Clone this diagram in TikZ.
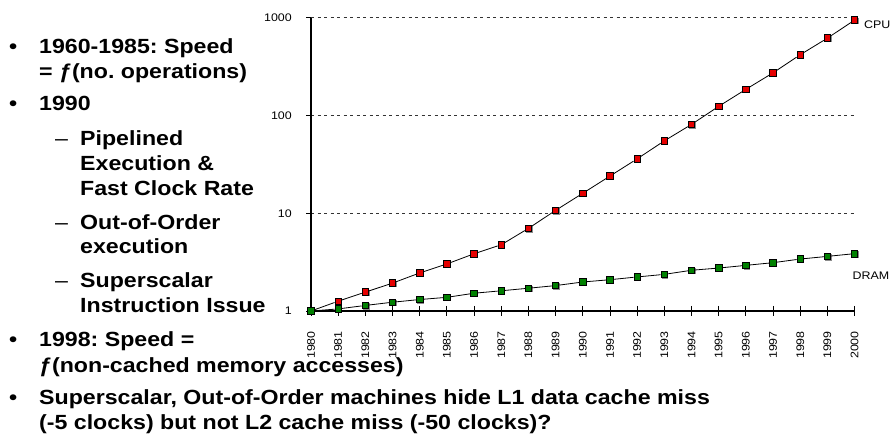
\documentclass[tikz,border=0pt]{standalone}
\usepackage{fontspec}
\setmainfont{Liberation Sans}[FakeStretch=1.13]
\usetikzlibrary{shadows}
\frenchspacing

\newcommand{\bodyfont}{\fontsize{20.5}{24}\selectfont\bfseries}
\newcommand{\chartfont}{\fontsize{11}{13}\selectfont}

\tikzset{
  line/.style={anchor=base west, inner sep=0pt, font=\bodyfont},
  dashmark/.style={anchor=base west, inner sep=0pt, font=\fontsize{20.5}{24}\selectfont},
  ylab/.style={anchor=east, inner sep=0pt, font=\chartfont},
  xlab/.style={anchor=east, rotate=90, inner sep=0pt, font=\chartfont},
  grid line/.style={draw=black!80, line width=0.8pt, dash pattern=on 3pt off 3.5pt},
  axis/.style={draw=black, line width=1.1pt},
  series/.style={draw=black, line width=0.8pt},
  marker/.style={rectangle, minimum size=6.5pt, inner sep=0pt, draw=black,
    line width=0.8pt, drop shadow={shadow xshift=0.9pt, shadow yshift=-0.9pt,
    fill=black!45, opacity=1}},
  cpu/.style={marker, fill=red!90!black},
  dram/.style={marker, fill=green!50!black},
}

\begin{document}
\begin{tikzpicture}[x=1pt, y=-1pt]
\useasboundingbox (0,0) rectangle (892,435);

% ---------- bullet list ----------
\node[line] (b1)  at (9,54)    {•};
\node[line] (t1a) at (39,54)   {1960-1985: Speed};
\node[line] (t1b) at (39,79)   {= ƒ(no. operations)};
\node[line] (b2)  at (9,111)   {•};
\node[line] (t2)  at (39,111)  {1990};
\node[dashmark] (s1)  at (55,146)  {–};
\node[line] (s1a) at (80,146)  {Pipelined};
\node[line] (s1b) at (80,171)  {Execution \&};
\node[line] (s1c) at (80,196)  {Fast Clock Rate};
\node[dashmark] (s2)  at (55,229.5){–};
\node[line] (s2a) at (80,229.5){Out-of-Order};
\node[line] (s2b) at (80,254)  {execution};
\node[dashmark] (s3)  at (55,288)  {–};
\node[line] (s3a) at (80,288)  {Superscalar};
\node[line] (s3b) at (80,312.5){Instruction Issue};
\node[line] (b3)  at (9,347)   {•};
\node[line] (t3a) at (39,347)  {1998: Speed =};
\node[line] (t3b) at (39,372.5){ƒ(non-cached memory accesses)};
\node[line] (b4)  at (9,405)   {•};
\node[line] (t4a) at (39,405)  {Superscalar, Out-of-Order machines hide L1 data cache miss};
\node[line] (t4b) at (39,430)  {(-5 clocks) but not L2 cache miss (-50 clocks)?};

% ---------- chart: log scale, 1 decade = 97.77 units, 1 year = 27.18 units ----------
\coordinate (o) at (311,311);
\foreach \lab [count=\k from 0] in {1,10,100,1000} {
  \coordinate (g\k) at (311,{311-97.77*\k});
  \node[ylab] (yl\k) at (292,{311-97.77*\k}) {\lab};
  \draw[axis, line width=0.9pt] (g\k) -- ++(-5,0);
}
\foreach \k in {1,2,3}
  \draw[grid line] (g\k) -- ++(544,0);
\draw[axis] (g3) -- (o);
\draw[axis] (o) -- ++(544,0);
\foreach \yr [count=\i from 0] in {1980,...,2000} {
  \draw[axis, line width=0.9pt] ({311+27.18*\i},306) -- ({311+27.18*\i},316);
  \node[xlab] (x\yr) at ({311+27.18*\i},331) {\yr};
}

% CPU performance relative to 1980
\foreach \v [count=\i from 0] in {1,1.26,1.56,1.93,2.45,3.03,3.85,4.76,7.0,10.7,16,24,36,55,81,124,185,273,418,618,945}
  \node[cpu] (c\i) at ({311+27.18*\i},{311-97.77*log10(\v)}) {};
% DRAM performance relative to 1980
\foreach \v [count=\i from 0] in {1,1.05,1.14,1.23,1.31,1.38,1.52,1.61,1.71,1.82,1.98,2.09,2.23,2.37,2.61,2.75,2.93,3.12,3.40,3.62,3.86}
  \node[dram] (d\i) at ({311+27.18*\i},{311-97.77*log10(\v)}) {};
\foreach \i [remember=\i as \j (initially 0)] in {1,...,20} {
  \draw[series] (c\j) -- (c\i);
  \draw[series] (d\j) -- (d\i);
}
\node[anchor=west, inner sep=0pt, font=\chartfont] (cpulab) at (864,24.5) {CPU};
\node[anchor=west, inner sep=0pt, font=\chartfont] (dramlab) at (852.5,275.5) {DRAM};
\end{tikzpicture}
\end{document}
